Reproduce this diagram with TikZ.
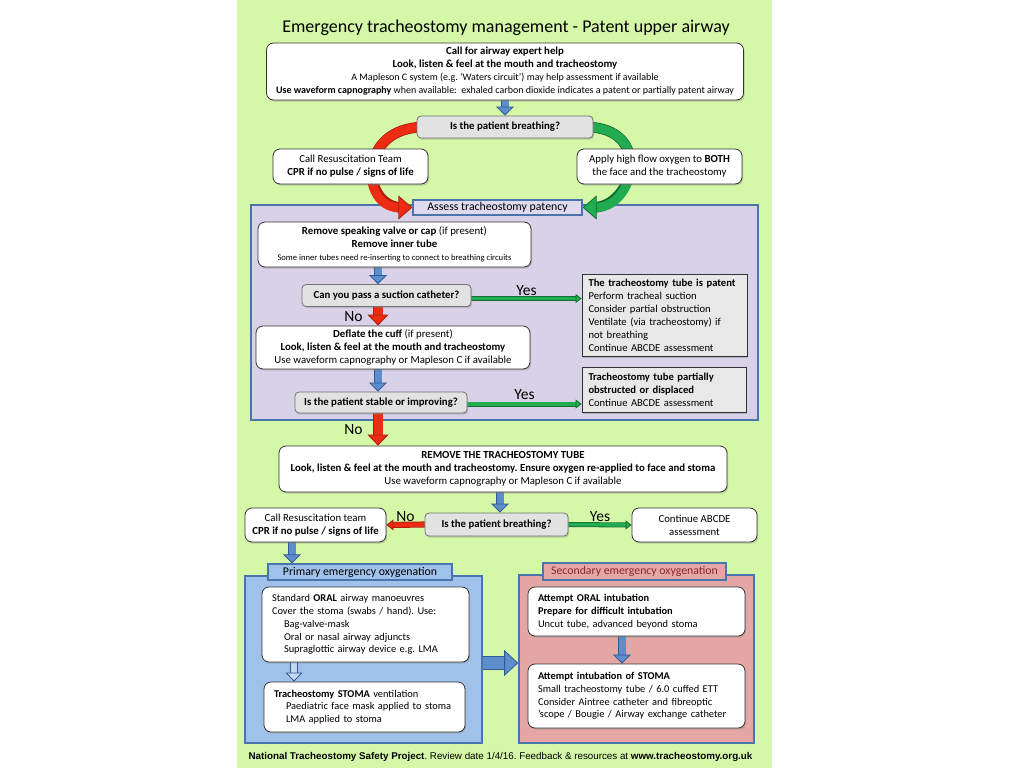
\documentclass[tikz,border=0pt]{standalone}
\usepackage{fontspec}
\setmainfont{Carlito}
\newfontfamily\footfont{Liberation Sans}
\usetikzlibrary{arrows.meta,shadows}
\frenchspacing

\definecolor{bggreen}{RGB}{213,247,168}
\definecolor{assessfill}{RGB}{216,209,232}
\definecolor{assesshead}{RGB}{224,218,240}
\definecolor{primaryfill}{RGB}{160,194,234}
\definecolor{secondaryfill}{RGB}{229,166,166}
\definecolor{regionedge}{RGB}{74,116,172}
\definecolor{headred}{RGB}{140,40,40}
\definecolor{askgrey}{RGB}{226,226,226}
\definecolor{notegrey}{RGB}{232,232,232}
\definecolor{arrowblue}{RGB}{92,142,204}
\definecolor{arrowblueedge}{RGB}{48,88,148}
\definecolor{arrowpale}{RGB}{196,216,242}
\definecolor{arrowred}{RGB}{238,44,20}
\definecolor{arrowrededge}{RGB}{170,30,10}
\definecolor{arrowgreen}{RGB}{34,172,82}
\definecolor{arrowgreenedge}{RGB}{20,110,50}

\newcommand{\bodysize}{\fontsize{10.8}{13}\selectfont}
\newcommand{\smallsize}{\fontsize{10}{12.5}\selectfont}
\newcommand{\tinysize}{\fontsize{8.6}{12}\selectfont}
\newcommand{\listsize}{\fontsize{10.4}{12.8}\selectfont}

\pgfdeclarelayer{regions}
\pgfdeclarelayer{arrowlayer}
\pgfsetlayers{regions,arrowlayer,main}

\tikzset{
  boxshadow/.style={drop shadow={opacity=0.35, shadow xshift=1.2pt, shadow yshift=-1.6pt}},
  whitebox/.style={draw=black!80, fill=white, rounded corners=7pt, line width=0.8pt,
    boxshadow, inner sep=0pt, align=center, font=\bodysize},
  listbox/.style={whitebox, inner xsep=10pt, align=left, font=\listsize},
  askbox/.style={draw=black!55, fill=askgrey, rounded corners=4pt, line width=0.8pt,
    boxshadow, inner sep=0pt, font=\bodysize\bfseries},
  notebox/.style={draw=black!80, fill=notegrey, line width=0.8pt, boxshadow,
    inner xsep=6.5pt, inner ysep=0pt, align=left, font=\fontsize{10.6}{13}\selectfont},
  region/.style={draw=regionedge, line width=1.6pt, inner sep=0pt},
  headbox/.style={draw=regionedge, line width=1.3pt, inner sep=0pt, font=\fontsize{11.8}{13}\selectfont},
  choice/.style={font=\fontsize{15.5}{16}\selectfont, inner sep=1pt},
  % fill, edge, shaft width, tip length, tip width
  fatarrow/.style n args={5}{line width=#3, draw=#1,
    -{Triangle[length=#4, width=#5, line width=0.8pt, fill=#1, color=#2]},
    preaction={-, draw=#2, line width=#3+1.6pt, shorten >=#4*0.7}},
  bluearrow/.style={fatarrow={arrowblue}{arrowblueedge}{7pt}{9pt}{18pt}},
  widearrow/.style={fatarrow={arrowblue}{arrowblueedge}{12pt}{14pt}{26pt}},
  hollowarrow/.style={fatarrow={arrowpale}{arrowblueedge}{6pt}{9pt}{17pt}},
  redarrow/.style={fatarrow={arrowred}{arrowrededge}{9pt}{11pt}{21pt}},
  redarc/.style={fatarrow={arrowred}{arrowrededge}{9pt}{14pt}{24pt}},
  greenarc/.style={fatarrow={arrowgreen}{arrowgreenedge}{9pt}{14pt}{24pt}},
  redline/.style={fatarrow={arrowred}{arrowrededge}{4.5pt}{7pt}{11pt}},
  greenline/.style={fatarrow={arrowgreen}{arrowgreenedge}{3.4pt}{6pt}{9pt}},
}

\begin{document}
\begin{tikzpicture}[x=1pt, y=-1pt]
  \useasboundingbox (0,0) rectangle (1024,768);

  % page and coloured areas
  \begin{pgfonlayer}{regions}
    \fill[white] (0,0) rectangle (1024,768);
    \fill[bggreen] (237,0) rectangle (772,768);
    \node[region, fill=assessfill, minimum width=507pt, minimum height=215pt] (assess) at (504.5,312.5) {};
    \node[region, fill=primaryfill, minimum width=237pt, minimum height=167pt] (primary) at (363.5,659.5) {};
    \node[region, fill=secondaryfill, minimum width=235pt, minimum height=168pt] (secondary) at (636.5,659) {};
  \end{pgfonlayer}

  \node[font=\fontsize{18}{20}\selectfont] (title) at (506,28) {Emergency tracheostomy management - Patent upper airway};

  % first assessment
  \node[whitebox, minimum width=477pt, minimum height=57pt] (callhelp) at (505,71.5)
    {\textbf{Call for airway expert help}\\
     \textbf{Look, listen \& feel at the mouth and tracheostomy}\\
     {\smallsize A Mapleson C system (e.g. `Waters circuit') may help assessment if available}\\
     {\smallsize\textbf{Use waveform capnography} when available:\ \ exhaled carbon dioxide indicates a patent or partially patent airway}};
  \node[askbox, minimum width=176pt, minimum height=22pt] (breathone) at (505,127) {Is the patient breathing?};
  \node[whitebox, minimum width=155pt, minimum height=35pt] (resusone) at (350.5,166.5)
    {Call Resuscitation Team\\ \textbf{CPR if no pulse / signs of life}};
  \node[whitebox, minimum width=165pt, minimum height=35pt] (oxygen) at (659.5,166.5)
    {Apply high flow oxygen to \textbf{BOTH}\\ the face and the tracheostomy};

  % tracheostomy patency
  \node[headbox, fill=assesshead, minimum width=169pt, minimum height=15pt] (assesshead) at (497.5,207.5) {Assess tracheostomy patency};
  \node[whitebox, minimum width=273pt, minimum height=45pt] (removevalve) at (394.5,244.5)
    {\textbf{Remove speaking valve or cap} (if present)\\
     \textbf{Remove inner tube}\\
     {\tinysize Some inner tubes need re-inserting to connect to breathing circuits}};
  \node[askbox, minimum width=169pt, minimum height=22pt] (suction) at (386.5,295.5) {Can you pass a suction catheter?};
  \node[notebox, text width=152pt, minimum height=82pt] (patent) at (664.5,315)
    {\textbf{The tracheostomy tube is patent}\\
     Perform tracheal suction\\
     Consider partial obstruction\\
     Ventilate (via tracheostomy) if\\
     not breathing\\
     Continue ABCDE assessment};
  \node[whitebox, minimum width=274pt, minimum height=43pt] (deflate) at (393,347.5)
    {\textbf{Deflate the cuff} (if present)\\
     \textbf{Look, listen \& feel at the mouth and tracheostomy}\\
     Use waveform capnography or Mapleson C if available};
  \node[askbox, minimum width=172pt, minimum height=21pt] (stable) at (381,402.5) {Is the patient stable or improving?};
  \node[notebox, text width=151pt, minimum height=45pt] (partial) at (664,389.5)
    {\textbf{Tracheostomy tube partially}\\
     \textbf{obstructed or displaced}\\
     Continue ABCDE assessment};

  % tube removed
  \node[whitebox, minimum width=448pt, minimum height=46pt] (removetube) at (503,469)
    {\textbf{REMOVE THE TRACHEOSTOMY TUBE}\\
     \textbf{Look, listen \& feel at the mouth and tracheostomy. Ensure oxygen re-applied to face and stoma}\\
     Use waveform capnography or Mapleson C if available};
  \node[askbox, minimum width=143pt, minimum height=23pt] (breathtwo) at (496.5,524.5) {Is the patient breathing?};
  \node[whitebox, minimum width=141pt, minimum height=34pt] (resustwo) at (315.5,525)
    {Call Resuscitation team\\ \textbf{CPR if no pulse / signs of life}};
  \node[whitebox, minimum width=125pt, minimum height=34pt] (continue) at (694.5,525)
    {Continue ABCDE\\ assessment};

  % oxygenation
  \node[headbox, fill=primaryfill, minimum width=184pt, minimum height=16pt] (primaryhead) at (360,572) {Primary emergency oxygenation};
  \node[listbox, text width=187pt, minimum height=75pt] (oral) at (365.5,624.5)
    {Standard \textbf{ORAL} airway manoeuvres\\
     Cover the stoma (swabs / hand). Use:\\
     \hspace*{12pt}Bag-valve-mask\\
     \hspace*{12pt}Oral or nasal airway adjuncts\\
     \hspace*{12pt}Supraglottic airway device e.g. LMA};
  \node[listbox, text width=181pt, minimum height=50pt] (stoma) at (364.5,707)
    {\textbf{Tracheostomy STOMA} ventilation\\
     \hspace*{12pt}Paediatric face mask applied to stoma\\
     \hspace*{12pt}LMA applied to stoma};
  \node[headbox, fill=secondaryfill, text=headred, minimum width=183pt, minimum height=17pt] (secondaryhead) at (634.5,571.5) {Secondary emergency oxygenation};
  \node[listbox, text width=197pt, minimum height=49pt] (intub) at (636.5,611.5)
    {\textbf{Attempt ORAL intubation}\\
     \textbf{Prepare for difficult intubation}\\
     Uncut tube, advanced beyond stoma};
  \node[listbox, text width=197pt, minimum height=64pt] (intubstoma) at (636.5,696)
    {\textbf{Attempt intubation of STOMA}\\
     Small tracheostomy tube / 6.0 cuffed ETT\\
     Consider Aintree catheter and fibreoptic\\
     'scope / Bougie / Airway exchange catheter};

  \node[font=\footfont\fontsize{9.8}{11}\selectfont] (footer) at (500.5,757)
    {\textbf{National Tracheostomy Safety Project}. Review date 1/4/16. Feedback \& resources at \textbf{www.tracheostomy.org.uk}};

  % connectors
  \coordinate (leftcol) at (378,0);
  \coordinate (midcol) at (500,0);
  \coordinate (resuscol) at (292,0);
  \coordinate (stomacol) at (294,0);
  \coordinate (intubcol) at (622,0);
  \coordinate (crossrow) at (0,663);
  \begin{pgfonlayer}{arrowlayer}
    \draw[bluearrow] (callhelp.south) -- (breathone.north);
    \draw[redarc] ([xshift=8pt]breathone.west) .. controls +(-68,0) and +(-52,0) .. (assesshead.west);
    \draw[greenarc] ([xshift=-8pt]breathone.east) .. controls +(68,0) and +(52,0) .. (assesshead.east);
    \draw[bluearrow] (removevalve.south -| leftcol) -- (suction.north -| leftcol);
    \draw[greenline] ([yshift=-3pt]suction.east) -- ([yshift=-3pt]suction.east -| patent.west)
      node[midway, above, choice] {Yes};
    \draw[redarrow] (suction.south -| leftcol) -- (deflate.north -| leftcol)
      node[midway, left=10pt, choice] {No};
    \draw[bluearrow] (deflate.south -| leftcol) -- (stable.north -| leftcol);
    \draw[greenline] ([yshift=-1.5pt]stable.east) -- ([yshift=-1.5pt]stable.east -| partial.west)
      node[midway, above=2pt, choice] {Yes};
    \draw[redarrow] (stable.south -| leftcol) -- (removetube.north -| leftcol)
      node[midway, left=10pt, choice] {No};
    \draw[bluearrow] (removetube.south -| midcol) -- (breathtwo.north -| midcol);
    \draw[redline] (breathtwo.west) -- (resustwo.east) node[midway, above, choice] {No};
    \draw[greenline] (breathtwo.east) -- (continue.west) node[midway, above, choice] {Yes};
    \draw[bluearrow] (resustwo.south -| resuscol) -- (primaryhead.north -| resuscol);
    \draw[hollowarrow] (oral.south -| stomacol) -- (stoma.north -| stomacol);
    \draw[widearrow] (primary.east |- crossrow) -- (secondary.west |- crossrow);
    \draw[bluearrow] (intub.south -| intubcol) -- (intubstoma.north -| intubcol);
  \end{pgfonlayer}
\end{tikzpicture}
\end{document}
